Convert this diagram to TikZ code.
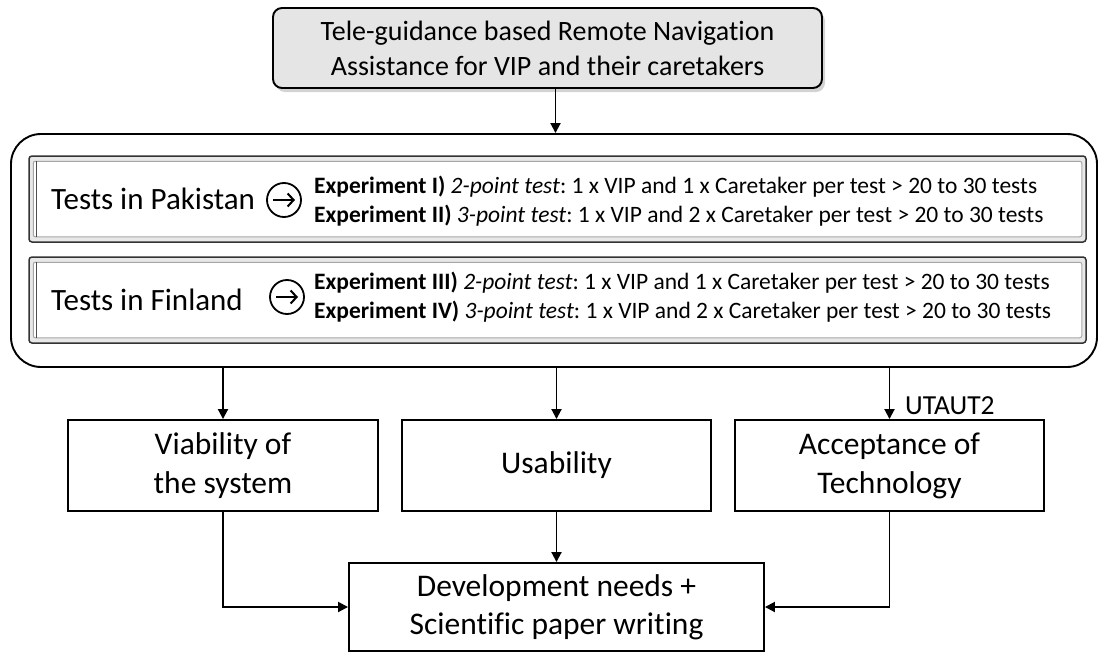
\documentclass[tikz,border=0pt]{standalone}
\usepackage{fontspec}
\setmainfont{Carlito}[Ligatures={NoCommon,NoRare,NoContextual}]
\usetikzlibrary{arrows.meta,shadows}
\frenchspacing

\begin{document}
\begin{tikzpicture}[x=1pt,y=-1pt,
  conn/.style={line width=1.9pt,-{Triangle[length=10pt,width=10pt]}},
  resbox/.style={draw,line width=1.9pt,minimum width=310pt,minimum height=91pt,
    align=center,inner sep=0pt,font=\fontsize{31.5}{39}\selectfont},
  panel/.style={draw=black!80,line width=1.5pt,rounded corners=3pt,fill=black!9,
    minimum width=1057pt,minimum height=86pt,inner sep=0pt},
  paneltitle/.style={anchor=west,inner sep=0pt,font=\fontsize{31}{35}\selectfont},
  exptext/.style={anchor=west,inner sep=0pt,align=left,font=\fontsize{23.5}{29}\selectfont},
  roundarrow/.style={circle,draw,line width=1.8pt,minimum size=34pt,inner sep=0pt},
  arrowglyph/.style={line width=2pt,-{Straight Barb[length=6pt,width=13pt]}}
]
\useasboundingbox (0,0) rectangle (1101,653);

% heading
\node[draw,line width=1.9pt,rounded corners=9pt,fill=black!10,
  minimum width=549pt,minimum height=80pt,align=center,
  drop shadow={shadow xshift=3pt,shadow yshift=-4pt,opacity=0.35},
  font=\fontsize{28}{35}\selectfont] (top) at (547.5,48)
  {Tele-guidance based Remote Navigation\\Assistance for VIP and their caretakers};

% container of the two test series
\node[draw,line width=1.9pt,rounded corners=30pt,minimum width=1086pt,
  minimum height=233pt,inner sep=0pt] (outer) at (554,250.5) {};

\draw[conn] ([xshift=8pt]top.south) -- ([xshift=8pt]top.south |- outer.north);

% test series panels
\node[panel] (pak) at (557.5,199) {};
\node[panel] (fin) at (557.5,300) {};
\foreach \p in {pak,fin}{
  \draw[fill=white,draw=black!35,line width=1pt,rounded corners=2pt]
    ([shift={(5,6)}]\p.north west) rectangle ([shift={(-5,-6)}]\p.south east);
  \draw[black!70,line width=1pt]
    ([shift={(8,6)}]\p.north west) -- ([shift={(8,-6)}]\p.south west);
}

\node[paneltitle] (pakt) at (51,199) {Tests in Pakistan};
\node[paneltitle] (fint) at (51,300) {Tests in Finland};

\node[roundarrow] (pakc) at (284,200) {};
\draw[arrowglyph] ([xshift=-11pt]pakc.center) -- ([xshift=11pt]pakc.center);
\node[roundarrow] (finc) at (287,297) {};
\draw[arrowglyph] ([xshift=-11pt]finc.center) -- ([xshift=11pt]finc.center);

\node[exptext] (pake) at (314,201.5)
  {\textbf{Experiment I)} \textit{2-point test}: 1 x VIP and 1 x Caretaker per test > 20 to 30 tests\\
   \textbf{Experiment II)} \textit{3-point test}: 1 x VIP and 2 x Caretaker per test > 20 to 30 tests};
\node[exptext] (fine) at (314,297.5)
  {\textbf{Experiment III)} \textit{2-point test}: 1 x VIP and 1 x Caretaker per test > 20 to 30 tests\\
   \textbf{Experiment IV)} \textit{3-point test}: 1 x VIP and 2 x Caretaker per test > 20 to 30 tests};

% outcomes
\node[resbox] (via) at (223,465.5) {Viability of\\the system};
\node[resbox,minimum width=309pt] (usa) at (556.5,465.5) {Usability};
\node[resbox,minimum width=309pt] (acc) at (889.5,465.5) {Acceptance of\\Technology};
\node[resbox,minimum width=415pt,minimum height=88pt,font=\fontsize{31.5}{38}\selectfont]
  (dev) at (556.5,607) {Development needs +\\Scientific paper writing};

\draw[conn] (outer.south -| via.north) -- (via.north);
\draw[conn] (outer.south -| usa.north) -- (usa.north);
\draw[conn] (outer.south -| acc.north) -- (acc.north);
\node[anchor=west,inner sep=0pt,font=\fontsize{27.5}{30}\selectfont] (utaut) at (905,406) {UTAUT2};

\draw[conn] (via.south) |- (dev.west);
\draw[conn] (usa.south) -- (dev.north);
\draw[conn] (acc.south) |- (dev.east);
\end{tikzpicture}
\end{document}
